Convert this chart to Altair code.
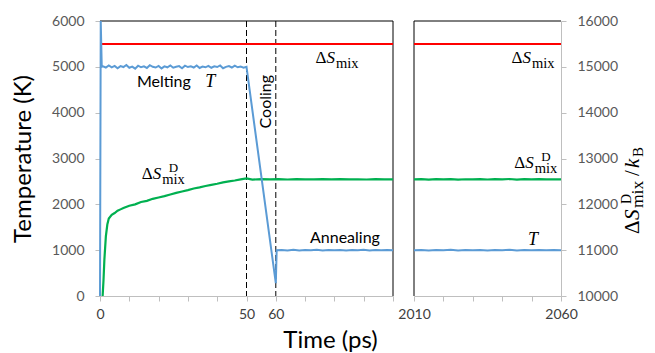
import altair as alt
import pandas as pd

# ---------------- data ----------------
# Temperature T (K), left panel, time in ps
T_left_t = [0, 0.25, 0.6,
            1, 2, 3, 4, 5, 6, 7, 8, 9, 10,
            11, 12, 13, 14, 15, 16, 17, 18, 19, 20,
            21, 22, 23, 24, 25, 26, 27, 28, 29, 30,
            31, 32, 33, 34, 35, 36, 37, 38, 39, 40,
            41, 42, 43, 44, 45, 46, 47, 48, 49, 50,
            60, 60.3,
            62, 64, 66, 68, 70, 72, 74, 76, 78, 80,
            82, 84, 86, 88, 90, 92, 94, 96, 98, 100]
T_left_v = [0, 6000, 5000,
            5010, 4985, 5030, 4990, 5020, 4970, 5015, 4995, 5040, 4980,
            5005, 4960, 5025, 4990, 5010, 4975, 5035, 5000, 4985, 5020,
            4965, 5010, 4990, 5030, 4980, 5000, 5015, 4970, 5025, 4995,
            5010, 4985, 5030, 4975, 5005, 4990, 5020, 4980, 5010, 4995,
            5030, 4970, 5000, 5015, 4985, 5025, 4990, 5005, 4980, 5000,
            280, 1000,
            1005, 995, 1008, 992, 1003, 998, 1010, 994, 1002, 996,
            1006, 991, 1004, 999, 1007, 993, 1001, 997, 1005, 1000]

# Temperature T (K), right panel
T_right_t = [2010, 2012.5, 2015, 2017.5, 2020, 2022.5, 2025, 2027.5, 2030, 2032.5,
             2035, 2037.5, 2040, 2042.5, 2045, 2047.5, 2050, 2052.5, 2055, 2057.5, 2060]
T_right_v = [1000, 1006, 994, 1004, 997, 1008, 993, 1002, 999, 1006,
             995, 1003, 998, 1007, 992, 1004, 997, 1005, 996, 1002, 1000]

# Configurational entropy dS^D_mix / k_B (right axis units), left panel
SD_left_t = [0.9, 1.2, 1.5, 2, 2.5, 3, 4, 5, 6, 7, 8, 10, 12, 14, 16, 18, 20,
             22, 24, 26, 28, 30, 32, 34, 36, 38, 40, 42, 44, 46, 48, 50,
             52, 55, 58, 61, 64, 67, 70, 73, 76, 79, 82, 85, 88, 91, 94, 97, 100]
SD_left_v = [10000, 10350, 10800, 11300, 11560, 11690, 11770, 11810, 11860, 11890, 11920,
             11970, 12000, 12050, 12075, 12120, 12150,
             12180, 12215, 12250, 12280, 12310, 12345, 12370, 12400, 12425, 12450,
             12480, 12500, 12520, 12545, 12565,
             12540, 12550, 12545, 12548, 12542, 12550, 12546, 12544, 12551, 12543,
             12549, 12545, 12547, 12542, 12550, 12546, 12545]
# right panel
SD_right_t = T_right_t
SD_right_v = [12545, 12550, 12541, 12548, 12544, 12552, 12540, 12547, 12545, 12551,
              12542, 12549, 12546, 12553, 12541, 12548, 12544, 12550, 12543, 12547, 12545]

# Ideal mixing entropy dS_mix / k_B
S_left_t = [0, 100]
S_right_t = [2010, 2060]
S_v = [15500, 15500]

# Stage boundaries (ps)
bounds_t = [50, 60]

# Tick values
x_left_ticks = [0, 10, 20, 30, 40, 50, 60, 70, 80, 90, 100]
x_left_labels = [0, 50, 60]
x_right_ticks = [2010, 2020, 2030, 2040, 2050, 2060]
x_right_labels = [2010, 2060]
yT_ticks = [0, 1000, 2000, 3000, 4000, 5000, 6000]
yS_ticks = [10000, 11000, 12000, 13000, 14000, 15000, 16000]

# Annotations (t, value)
left_T_text = ["Melting", "Annealing"]
left_T_text_t = [21.8, 83.6]
left_T_text_v = [4553, 1163]
italicT_left_t = [37.6]
italicT_left_v = [4553]
italicT_right_t = [2050.5]
italicT_right_v = [1113]
cooling_t = [56.6]
cooling_v = [4240]
dS_left_t = [77.3, 18.0]
dS_left_v = [15084, 12553]
dS_left_sup = ["", "D"]
dS_right_t = [2046.9, 2047.8]
dS_right_v = [15084, 12786]
dS_right_sup = ["", "D"]

# ---------------- style ----------------
BLUE, GREEN, RED = "#5B9BD5", "#00B050", "#FF0000"
SANS, SERIF = "Lato", "Liberation Serif"
W1, W2, H = 293, 147, 275
AX_GRAY = "#BFBFBF"

yT_scale = alt.Scale(domain=[0, 6000], nice=False, zero=False)
yS_scale = alt.Scale(domain=[10000, 16000], nice=False, zero=False)
xl_scale = alt.Scale(domain=[0, 100], nice=False, zero=False)
xr_scale = alt.Scale(domain=[2010, 2060], nice=False, zero=False)


def lbl_expr(vals):
    cond = "||".join(f"datum.value=={v}" for v in vals)
    return f"({cond}) ? format(datum.value, 'd') : ''"


x_left_axis = alt.Axis(values=x_left_ticks, labelExpr=lbl_expr(x_left_labels),
                       labelColor="#404040", labelPadding=6, title="Time (ps)",
                       titleX=230, titleAlign="center", titlePadding=7)
x_right_axis = alt.Axis(values=x_right_ticks, labelExpr=lbl_expr(x_right_labels),
                        labelColor="#404040", labelPadding=6, title=None)
yT_axis = alt.Axis(values=yT_ticks, title="Temperature (K)", labelColor="#595959",
                   labelPadding=11, titlePadding=16, format="d")
yS_axis = alt.Axis(values=yS_ticks, title=None, orient="right", labelColor="#595959",
                   labelPadding=11, format="d")


def X(scale, axis):
    return alt.X("t:Q", scale=scale, axis=axis)


def Y(scale, axis):
    return alt.Y("v:Q", scale=scale, axis=axis)


def df(**cols):
    return pd.DataFrame(cols)


def line(t, v, color, x, y, width=2):
    return alt.Chart(df(t=t, v=v)).mark_line(color=color, strokeWidth=width).encode(x=x, y=y)


def ds_label(t, v, sup, x, y):
    base = alt.Chart(df(t=t, v=v, sup=sup))
    delta = base.mark_text(text="Δ", font=SERIF, fontSize=17, align="right",
                           baseline="alphabetic", color="black").encode(x=x, y=y)
    s = base.mark_text(text="S", font=SERIF, fontSize=17, fontStyle="italic",
                       align="left", baseline="alphabetic", color="black").encode(x=x, y=y)
    mix = base.mark_text(text="mix", font=SERIF, fontSize=14.5, align="left", dx=9.5,
                         dy=5, baseline="alphabetic", color="black").encode(x=x, y=y)
    d = base.mark_text(font=SERIF, fontSize=13, align="left", dx=16, dy=-7,
                       baseline="alphabetic", color="black").encode(text="sup:N", x=x, y=y)
    return alt.layer(delta, s, mix, d)


def border(**enc):
    return alt.Chart(df(k=[0])).mark_rule(color="black", strokeWidth=1).encode(**enc)


# ---------------- left panel ----------------
xl = X(xl_scale, x_left_axis)
yTl = Y(yT_scale, yT_axis)
ySl = Y(yS_scale, None)

left_rules = alt.layer(
    alt.Chart(df(t=bounds_t)).mark_rule(color="black", strokeDash=[6, 3], strokeWidth=1)
    .encode(x=xl),
    border(y=alt.value(0)),
    border(x=alt.value(W1)),
)

left_S = alt.layer(
    line(S_left_t, S_v, RED, xl, ySl),
    line(SD_left_t, SD_left_v, GREEN, xl, ySl, 2.2),
    ds_label(dS_left_t, dS_left_v, dS_left_sup, xl, ySl),
)

left_T = alt.layer(
    line(T_left_t, T_left_v, BLUE, xl, yTl),
    alt.Chart(df(t=left_T_text_t, v=left_T_text_v, s=left_T_text)).mark_text(
        font=SANS, fontSize=16, baseline="alphabetic", color="black")
    .encode(x=xl, y=yTl, text="s:N"),
    alt.Chart(df(t=italicT_left_t, v=italicT_left_v)).mark_text(
        text="T", font=SERIF, fontSize=18, fontStyle="italic", baseline="alphabetic",
        color="black").encode(x=xl, y=yTl),
    alt.Chart(df(t=cooling_t, v=cooling_v)).mark_text(
        text="Cooling", font=SANS, fontSize=16, angle=270, baseline="middle",
        align="center", color="black").encode(x=xl, y=yTl),
)

left = alt.layer(left_rules, left_S, left_T).resolve_scale(y="independent").properties(
    width=W1, height=H)

# ---------------- right panel ----------------
xr = X(xr_scale, x_right_axis)
ySr = Y(yS_scale, yS_axis)
yTr = Y(yT_scale, None)

right_rules = alt.layer(
    border(y=alt.value(0)),
    border(x=alt.value(0)),
)

right_S = alt.layer(
    line(S_right_t, S_v, RED, xr, ySr),
    line(SD_right_t, SD_right_v, GREEN, xr, ySr, 2.2),
    ds_label(dS_right_t, dS_right_v, dS_right_sup, xr, ySr),
)

right_T = alt.layer(
    line(T_right_t, T_right_v, BLUE, xr, yTr),
    alt.Chart(df(t=italicT_right_t, v=italicT_right_v)).mark_text(
        text="T", font=SERIF, fontSize=18, fontStyle="italic", baseline="alphabetic",
        color="black").encode(x=xr, y=yTr),
)

# right axis title  ΔS^D_mix / k_B  (rotated)
TX, TY = 225, 213


def tpiece(text, dx, dy, size, italic=False):
    kw = dict(text=text, font=SERIF, fontSize=size, angle=270, align="left",
              baseline="alphabetic", color="black", dx=dx, dy=dy)
    if italic:
        kw["fontStyle"] = "italic"
    return alt.Chart(df(k=[0])).mark_text(**kw).encode(x=alt.value(TX), y=alt.value(TY))


right_title = alt.layer(
    tpiece("Δ", 0, 0, 21),
    tpiece("S", 14, 0, 21, True),
    tpiece("D", 30, -8, 14),
    tpiece("mix", 26, 4, 17.5),
    tpiece("/", 58, 0, 21),
    tpiece("k", 66, 0, 21, True),
    tpiece("B", 77, 4, 15),
)

right = alt.layer(right_rules, right_S, right_T, right_title).resolve_scale(
    y="independent").properties(width=W2, height=H)

chart = alt.hconcat(left, right, spacing=21, bounds="flush").configure_view(
    stroke=None).configure_axis(
    grid=False, domainColor=AX_GRAY, tickColor=AX_GRAY, tickSize=5,
    labelFont=SANS, labelFontSize=14, titleFont=SANS, titleFontSize=24,
    titleFontWeight="normal", titleColor="black", labelOverlap=False,
    labelFlush=False).properties(
    background="white", autosize=alt.AutoSizeParams(type="none"),
    padding={"left": 92, "top": 13, "right": 547, "bottom": 324})

chart.save("out.html", embed_options={"renderer": "svg", "actions": False})
